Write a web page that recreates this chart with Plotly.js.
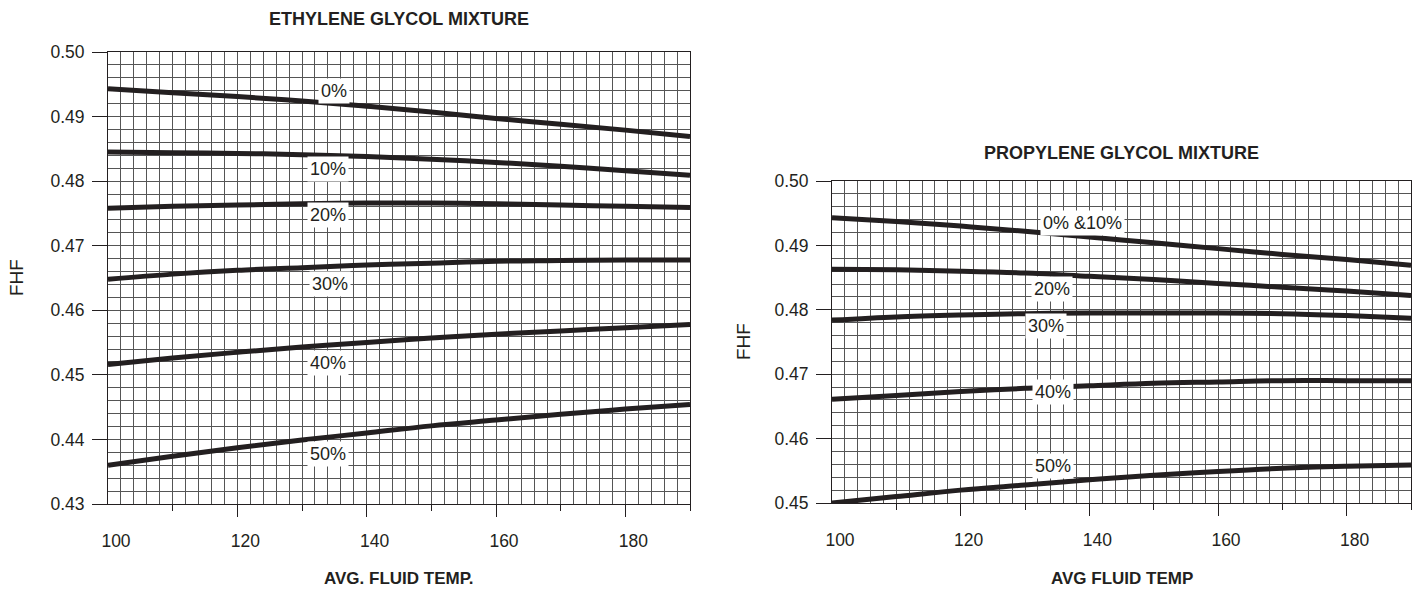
<!DOCTYPE html>
<html><head><meta charset="utf-8">
<script src="https://cdn.plot.ly/plotly-3.0.1.min.js"></script>
<style>html,body{margin:0;padding:0;background:#fff}#chart{width:1422px;height:590px}</style>
</head><body><div id="chart"></div>
<script>
// ---------- data ----------
const avgTemp = [100, 110, 120, 130, 140, 150, 160, 170, 180, 190];

const ethyleneLabels = ['0%', '10%', '20%', '30%', '40%', '50%'];
const eth0  = [0.4943, 0.4937, 0.4931, 0.4924, 0.4916, 0.4907, 0.4897, 0.4888, 0.4879, 0.4869];
const eth10 = [0.4845, 0.4844, 0.4843, 0.4841, 0.4838, 0.4834, 0.4829, 0.4823, 0.4816, 0.4809];
const eth20 = [0.4758, 0.4761, 0.4763, 0.4765, 0.4766, 0.4766, 0.4765, 0.4763, 0.4761, 0.4759];
const eth30 = [0.4648, 0.4656, 0.4662, 0.4666, 0.4670, 0.4673, 0.4676, 0.4677, 0.4678, 0.4678];
const eth40 = [0.4516, 0.4526, 0.4535, 0.4543, 0.4550, 0.4557, 0.4563, 0.4568, 0.4573, 0.4578];
const eth50 = [0.4360, 0.4374, 0.4387, 0.4399, 0.4410, 0.4421, 0.4430, 0.4439, 0.4447, 0.4454];

const propyleneLabels = ['0% &10%', '20%', '30%', '40%', '50%'];
const prop0_10 = [0.4943, 0.4937, 0.4930, 0.4922, 0.4913, 0.4904, 0.4895, 0.4886, 0.4878, 0.4869];
const prop20   = [0.4863, 0.4862, 0.4860, 0.4857, 0.4852, 0.4847, 0.4841, 0.4835, 0.4829, 0.4822];
const prop30   = [0.4784, 0.4789, 0.4792, 0.4794, 0.4795, 0.4795, 0.4795, 0.4794, 0.4791, 0.4787];
const prop40   = [0.4661, 0.4667, 0.4673, 0.4678, 0.4682, 0.4686, 0.4688, 0.4690, 0.4690, 0.4690];
const prop50   = [0.4500, 0.4510, 0.4520, 0.4528, 0.4536, 0.4543, 0.4549, 0.4554, 0.4557, 0.4559];

const xLabelTicks = [100, 120, 140, 160, 180];
const ethYTicks = [0.43, 0.44, 0.45, 0.46, 0.47, 0.48, 0.49, 0.50];
const propYTicks = [0.45, 0.46, 0.47, 0.48, 0.49, 0.50];

const ethTitle = 'ETHYLENE GLYCOL MIXTURE';
const propTitle = 'PROPYLENE GLYCOL MIXTURE';
const ethXTitle = 'AVG. FLUID TEMP.';
const propXTitle = 'AVG FLUID TEMP';
const yTitle = 'FHF';

// ---------- layout config ----------
const W = 1422, H = 590;
const INK = '#231f20';
const GRID = '#555555';
const FONT = 'Liberation Sans, Arial, Helvetica, sans-serif';
const leftBox = {l: 108, r: 690, t: 52, b: 504};
const rightBox = {l: 832, r: 1411, t: 181, b: 503};
const ethLabelPos = [[134.9, 0.4939], [134.0, 0.4819], [134.0, 0.4747], [134.3, 0.4641], [134.0, 0.4518], [134.0, 0.4378]];
const propLabelPos = [[138.9, 0.4935], [134.2, 0.4832], [133.3, 0.4775], [134.4, 0.4673], [134.4, 0.4558]];

const ethSeries = [eth0, eth10, eth20, eth30, eth40, eth50];
const propSeries = [prop0_10, prop20, prop30, prop40, prop50];

const traces = [];
ethSeries.forEach((ys, i) => traces.push({
  x: avgTemp, y: ys, xaxis: 'x', yaxis: 'y', type: 'scatter', mode: 'lines',
  name: ethyleneLabels[i], line: {color: INK, width: 5, shape: 'spline'}, hoverinfo: 'x+y+name'
}));
propSeries.forEach((ys, i) => traces.push({
  x: avgTemp, y: ys, xaxis: 'x2', yaxis: 'y2', type: 'scatter', mode: 'lines',
  name: propyleneLabels[i], line: {color: INK, width: 5, shape: 'spline'}, hoverinfo: 'x+y+name'
}));
// carriers for the overlay (grid + label) axes
traces.push({x: [], y: [], xaxis: 'x3', yaxis: 'y3', type: 'scatter', mode: 'lines', hoverinfo: 'skip', showlegend: false});
traces.push({x: [], y: [], xaxis: 'x4', yaxis: 'y4', type: 'scatter', mode: 'lines', hoverinfo: 'skip', showlegend: false});

const tickFont = {family: FONT, size: 17.5, color: INK};

function dom(box) {
  return {x: [box.l / W, box.r / W], y: [1 - box.b / H, 1 - box.t / H]};
}
function mainX(box, anchor) {
  return {
    domain: dom(box).x, anchor: anchor, range: [100, 190], fixedrange: true,
    tickmode: 'array', tickvals: [120, 140, 160, 180], ticks: 'outside', ticklen: 12, tickwidth: 1, tickcolor: INK,
    showticklabels: false, showgrid: false, zeroline: false,
    showline: true, mirror: true, linecolor: INK, linewidth: 1,
    minor: {tickmode: 'array', tickvals: [110, 130, 150, 170, 190], ticks: 'outside', ticklen: 6, tickwidth: 1, tickcolor: INK, showgrid: false}
  };
}
function mainY(box, anchor, ticks, range) {
  return {
    domain: dom(box).y, anchor: anchor, range: range, fixedrange: true,
    tickmode: 'array', tickvals: ticks, ticktext: ticks.map(v => v.toFixed(2)),
    ticks: 'outside', ticklen: 15, tickwidth: 1, tickcolor: INK, tickfont: tickFont, ticklabelstandoff: 4,
    showgrid: false, zeroline: false, showline: true, mirror: true, linecolor: INK, linewidth: 1
  };
}
function gridX(over, anchor) {
  return {
    overlaying: over, anchor: anchor, range: [100, 190], fixedrange: true, side: 'bottom',
    tickmode: 'array', tickvals: xLabelTicks, ticktext: xLabelTicks.map(String), ticks: '',
    tickfont: tickFont, ticklabelshift: 8, ticklabelstandoff: 24,
    showgrid: true, gridcolor: GRID, gridwidth: 1, zeroline: false, showline: false,
    minor: {dtick: 2, tick0: 100, showgrid: true, gridcolor: GRID, gridwidth: 1, ticks: ''}
  };
}
function gridY(over, anchor, range) {
  return {
    overlaying: over, anchor: anchor, range: range, fixedrange: true,
    dtick: 0.002, tick0: 0.43, ticks: '', showticklabels: false,
    showgrid: true, gridcolor: GRID, gridwidth: 1, zeroline: false, showline: false
  };
}

const annotations = [];
ethyleneLabels.forEach((t, i) => annotations.push({
  x: ethLabelPos[i][0], y: ethLabelPos[i][1], xref: 'x', yref: 'y', text: t, showarrow: false,
  bgcolor: '#ffffff', borderpad: 2, font: {family: FONT, size: 18, color: INK}
}));
propyleneLabels.forEach((t, i) => annotations.push({
  x: propLabelPos[i][0], y: propLabelPos[i][1], xref: 'x2', yref: 'y2', text: t, showarrow: false,
  bgcolor: '#ffffff', borderpad: 2, font: {family: FONT, size: 18, color: INK}
}));
const boldFont = {family: FONT, size: 17, color: INK, weight: 'bold'};
const titleFont = {family: FONT, size: 18, color: INK, weight: 'bold'};
function paperText(text, px, py, font, extra) {
  return Object.assign({text: '<b>' + text + '</b>', x: px / W, y: 1 - py / H, xref: 'paper', yref: 'paper',
    showarrow: false, xanchor: 'center', yanchor: 'middle', font: font}, extra || {});
}
annotations.push(paperText(ethTitle, (leftBox.l + leftBox.r) / 2, 19, titleFont));
annotations.push(paperText(propTitle, (rightBox.l + rightBox.r) / 2, 153, titleFont));
annotations.push(paperText(ethXTitle, (leftBox.l + leftBox.r) / 2, 578, boldFont));
annotations.push(paperText(propXTitle, (rightBox.l + rightBox.r) / 2, 578, boldFont));
annotations.push({text: yTitle, x: 16 / W, y: 1 - (leftBox.t + leftBox.b) / 2 / H, xref: 'paper', yref: 'paper',
  xanchor: 'center', yanchor: 'middle',
  showarrow: false, textangle: -90, font: {family: FONT, size: 19, color: INK}});
annotations.push({text: yTitle, x: 743 / W, y: 1 - (rightBox.t + rightBox.b) / 2 / H, xref: 'paper', yref: 'paper',
  xanchor: 'center', yanchor: 'middle',
  showarrow: false, textangle: -90, font: {family: FONT, size: 19, color: INK}});

const layout = {
  width: W, height: H, margin: {l: 0, r: 0, t: 0, b: 0},
  paper_bgcolor: '#ffffff', plot_bgcolor: '#ffffff', showlegend: false,
  font: {family: FONT, color: INK},
  xaxis: mainX(leftBox, 'y'),
  yaxis: mainY(leftBox, 'x', ethYTicks, [0.43, 0.50]),
  xaxis2: mainX(rightBox, 'y2'),
  yaxis2: mainY(rightBox, 'x2', propYTicks, [0.45, 0.50]),
  xaxis3: gridX('x', 'y3'),
  yaxis3: gridY('y', 'x3', [0.43, 0.50]),
  xaxis4: gridX('x2', 'y4'),
  yaxis4: gridY('y2', 'x4', [0.45, 0.50]),
  annotations: annotations
};

Plotly.newPlot('chart', traces, layout, {displayModeBar: false, staticPlot: true});
</script>
</body></html>
